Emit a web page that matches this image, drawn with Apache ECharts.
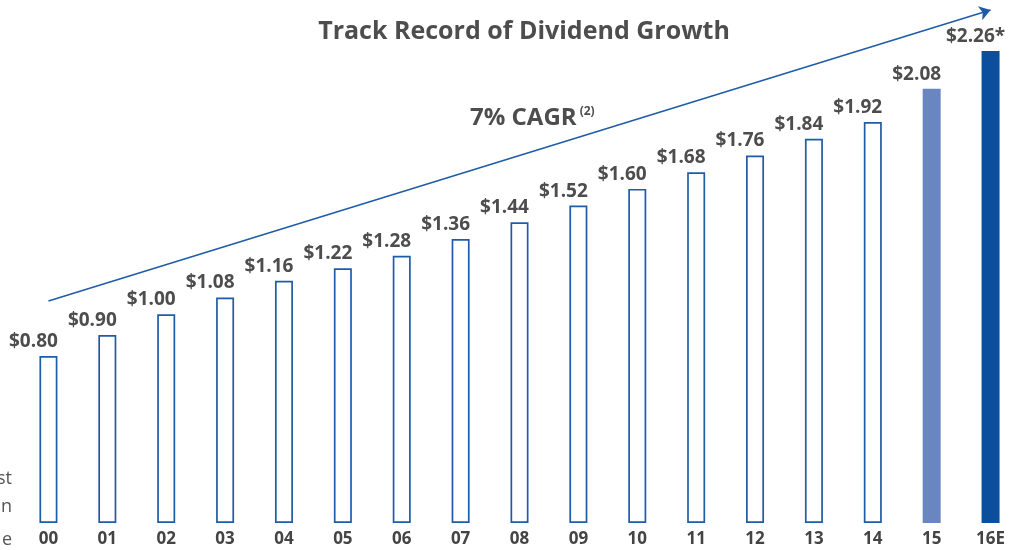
<!DOCTYPE html>
<html><head><meta charset="utf-8">
<script src="https://cdn.jsdelivr.net/npm/echarts@6/dist/echarts.min.js"></script>
<style>html,body{margin:0;padding:0;background:#fff}#c{width:1020px;height:550px}</style>
</head><body><div id="c"></div>
<script>
const categories = ['00','01','02','03','04','05','06','07','08','09','10','11','12','13','14','15','16E'];
const dividends = [0.80,0.90,1.00,1.08,1.16,1.22,1.28,1.36,1.44,1.52,1.60,1.68,1.76,1.84,1.92,2.08,2.26];
const labelSuffix = ['','','','','','','','','','','','','','','','','*'];
const trendStart = ['00', 1.063];
const trendEnd = ['16E', 2.457];
const titleText = 'Track Record of Dividend Growth';
const cagrText = '7% CAGR';
const cagrNote = '(2)';
const sideFragments = ['st','n','e'];

const FONT = '"Open Sans", "Noto Sans", sans-serif';
const barData = dividends.map((v, i) => {
  let style = {color: '#ffffff', borderColor: '#1f5ca8', borderWidth: 1.7};
  if (categories[i] === '15') style = {color: '#6a86c0', borderColor: '#6a86c0', borderWidth: 0};
  if (categories[i] === '16E') style = {color: '#0b4f9c', borderColor: '#0b4f9c', borderWidth: 0};
  return {value: v, itemStyle: style};
});

const chart = echarts.init(document.getElementById('c'), null, {renderer: 'canvas'});
chart.setOption({
  animation: false,
  backgroundColor: '#ffffff',
  title: {
    text: titleText, left: 519, top: 14, textAlign: 'center',
    textStyle: {fontFamily: FONT, fontWeight: 'bold', fontSize: 25, color: '#4d4d4d'}
  },
  grid: {left: 19, width: 1004, top: 1, bottom: 27},
  xAxis: {
    type: 'category', data: categories,
    axisLine: {show: false}, axisTick: {show: false},
    axisLabel: {fontFamily: FONT, fontWeight: 'bold', fontSize: 17, color: '#444444', margin: 8}
  },
  yAxis: {type: 'value', min: 0, max: 2.5, show: false, splitLine: {show: false}},
  series: [{
    type: 'bar', data: barData, barWidth: 18,
    label: {
      show: true, position: 'top', distance: 5, offset: [-15, 0],
      fontFamily: FONT, fontWeight: 'bold', fontSize: 19, color: '#4d4d4d',
      formatter: p => '$' + p.value.toFixed(2) + labelSuffix[p.dataIndex]
    },
    markLine: {
      silent: true, symbol: ['none', 'arrow'], symbolSize: 11,
      lineStyle: {color: '#1f5ca8', width: 1.6, type: 'solid'},
      label: {show: false},
      data: [[{coord: trendStart}, {coord: trendEnd}]]
    }
  }],
  graphic: [
    {type: 'text', left: 470, top: 106, style: {
      text: '{a|' + cagrText + '}{b|' + cagrNote + '}',
      rich: {
        a: {fontFamily: FONT, fontWeight: 'bold', fontSize: 24, fill: '#4d4d4d', color: '#4d4d4d'},
        b: {fontFamily: FONT, fontWeight: 'bold', fontSize: 12, fill: '#4d4d4d', color: '#4d4d4d', verticalAlign: 'top', padding: [0,0,10,3]}
      }
    }},
    {type: 'text', right: 1008, top: 470, style: {text: sideFragments[0], font: '18px ' + FONT, fill: '#555555'}},
    {type: 'text', right: 1008, top: 498, style: {text: sideFragments[1], font: '18px ' + FONT, fill: '#555555'}},
    {type: 'text', right: 1008, top: 531, style: {text: sideFragments[2], font: '18px ' + FONT, fill: '#555555'}}
  ]
});
</script></body></html>
